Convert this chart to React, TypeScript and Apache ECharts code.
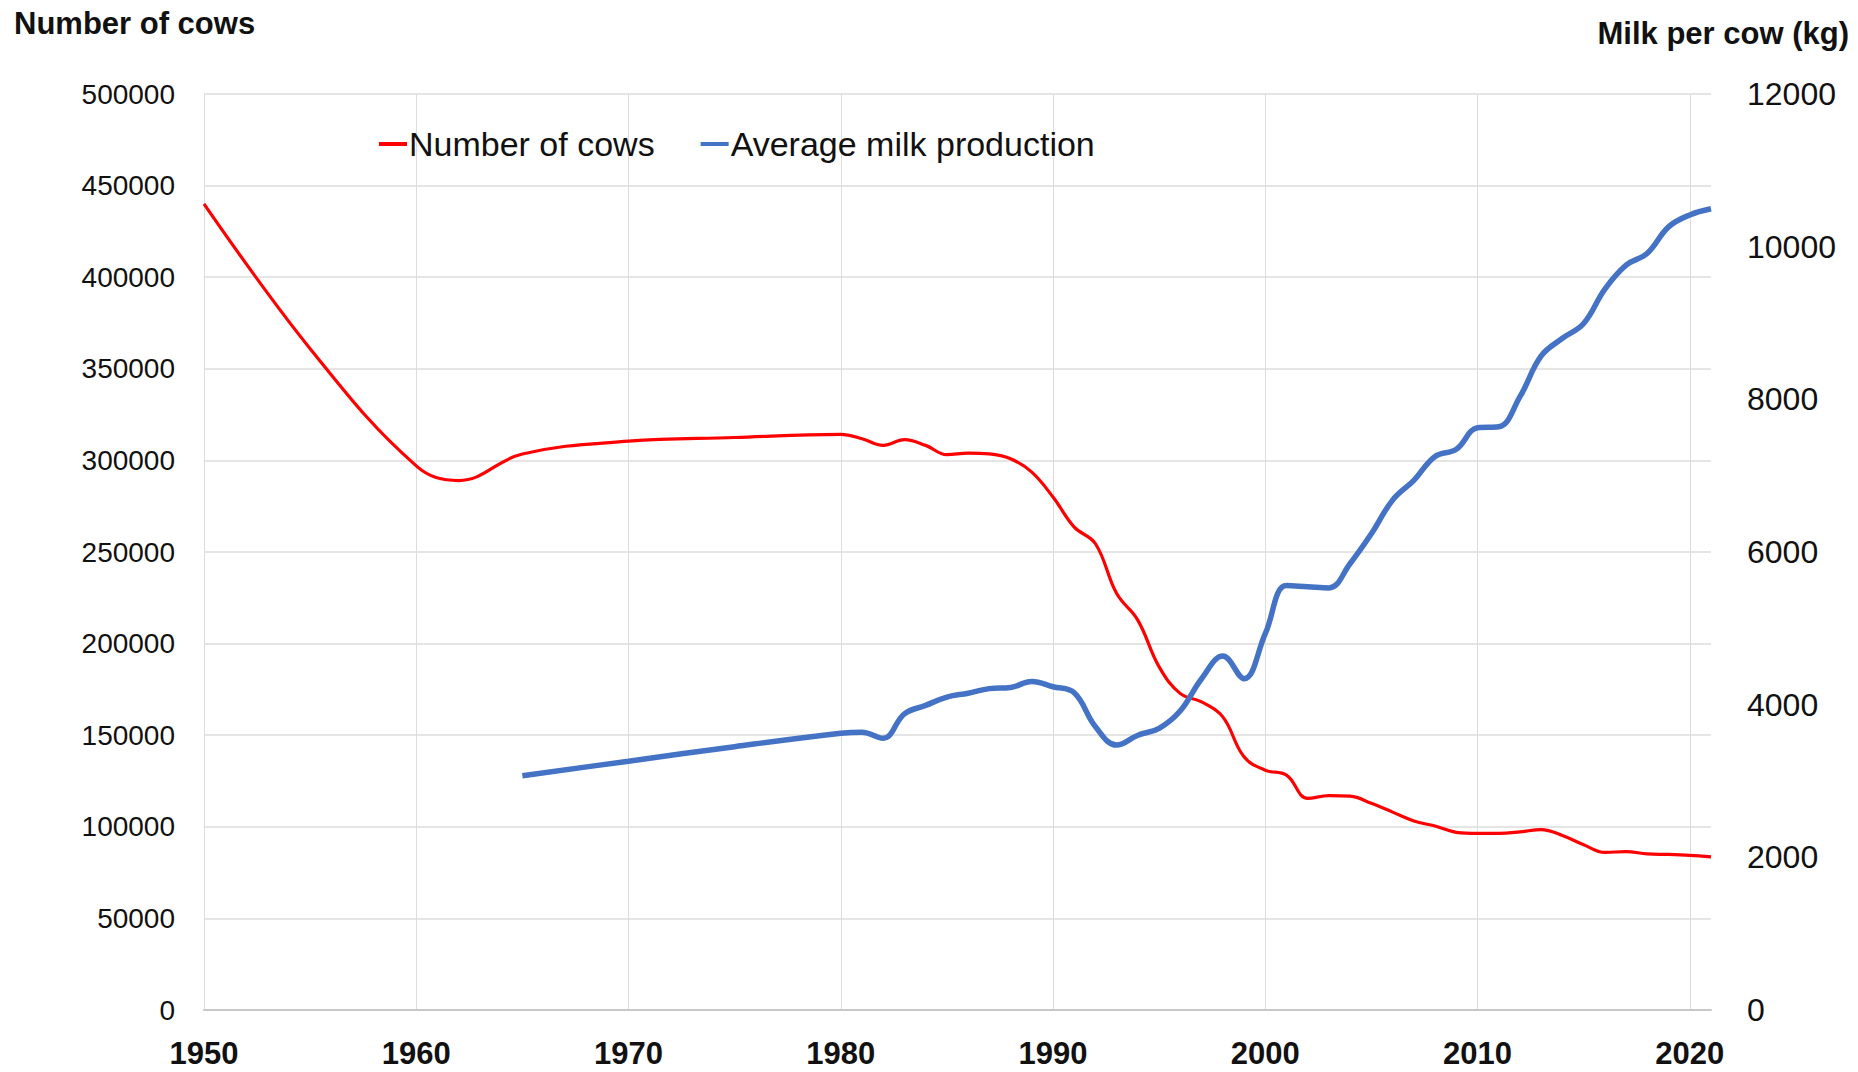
import React, { useEffect, useRef } from "react";
import * as echarts from "echarts";

const cowYears = [
  1950, 1955, 1960, 1962, 1965, 1970, 1975,
  1980, 1981, 1982, 1983, 1984, 1985, 1986, 1987, 1988, 1989,
  1990, 1991, 1992, 1993, 1994, 1995, 1996, 1997, 1998, 1999,
  2000, 2001, 2002, 2003, 2004, 2005, 2006, 2007, 2008, 2009,
  2010, 2011, 2012, 2013, 2014, 2015, 2016, 2017, 2018, 2019,
  2020, 2021,
];
const cowCounts = [
  440000, 361000, 297000, 289000, 303500, 310500, 312500,
  314200, 311800, 308200, 311300, 308200, 303100, 304000, 303600, 300900, 293600,
  280000, 263600, 254500, 227300, 212700, 187300, 172700, 168200, 160000, 138200,
  130900, 128200, 115500, 117000, 116700, 112800, 108000, 103200, 100400, 97000,
  96400, 96400, 97200, 98500, 95300, 90200, 86000, 86500, 85200, 84900,
  84400, 83600,
];

const milkYears = [
  1965, 1970, 1975,
  1980, 1981, 1982, 1983, 1984, 1985, 1986, 1987, 1988, 1989,
  1990, 1991, 1992, 1993, 1994, 1995, 1996, 1997, 1998, 1999,
  2000, 2001, 2002, 2003, 2004, 2005, 2006, 2007, 2008, 2009,
  2010, 2011, 2012, 2013, 2014, 2015, 2016, 2017, 2018, 2019,
  2020, 2021,
];
const milkPerCow = [
  3070, 3260, 3450,
  3625, 3640, 3560, 3880, 3990, 4100, 4150, 4210, 4225, 4305,
  4235, 4155, 3710, 3470, 3600, 3690, 3920, 4340, 4636, 4340,
  4930, 5560, 5545, 5530, 5850, 6240, 6680, 6939, 7252, 7346,
  7628, 7640, 8035, 8568, 8800, 8994, 9444, 9758, 9914, 10259,
  10416, 10497,
];

const seriesNames = ["Number of cows", "Average milk production"];
const leftAxisTitle = "Number of cows";
const rightAxisTitle = "Milk per cow (kg)";

const FONT = "'Liberation Sans', Arial, sans-serif";
const plain = (v: number) => String(v);

export default function App() {
  const ref = useRef<HTMLDivElement>(null);

  useEffect(() => {
    document.body.style.margin = "0";
    const chart = echarts.init(ref.current!, null, { renderer: "svg" });
    const cowData = cowYears.map((y, i) => [y, cowCounts[i]]);
    const milkData = milkYears.map((y, i) => [y, milkPerCow[i]]);

    chart.setOption({
      animation: false,
      backgroundColor: "#ffffff",
      textStyle: { fontFamily: FONT },
      grid: { left: 204, right: 147, top: 94, bottom: 62, containLabel: false },
      legend: {
        left: 374,
        top: 122,
        itemWidth: 28,
        itemHeight: 4,
        itemGap: 46,
        icon: "rect",
        textStyle: { fontSize: 34, color: "#111", fontFamily: FONT, padding: [0, 0, 0, -3] },
        data: seriesNames,
      },
      graphic: [
        {
          type: "text",
          x: 14,
          y: 23,
          style: {
            text: leftAxisTitle,
            fontSize: 31,
            fontWeight: "bold",
            fontFamily: FONT,
            fill: "#111",
            align: "left",
            verticalAlign: "middle",
          },
        },
        {
          type: "text",
          x: 1849,
          y: 33,
          style: {
            text: rightAxisTitle,
            fontSize: 31,
            fontWeight: "bold",
            fontFamily: FONT,
            fill: "#111",
            align: "right",
            verticalAlign: "middle",
          },
        },
      ],
      xAxis: {
        type: "value",
        min: 1950,
        max: 2021,
        interval: 10,
        axisLine: { show: true, lineStyle: { color: "#c8c8c8", width: 2 } },
        axisTick: { show: false },
        axisLabel: {
          fontSize: 31,
          fontWeight: "bold",
          color: "#111",
          fontFamily: FONT,
          margin: 28,
          showMaxLabel: false,
          formatter: plain,
        },
        splitLine: {
          show: true,
          showMaxLine: false,
          lineStyle: { color: "#dcdcdc", width: 1 },
        },
      },
      yAxis: [
        {
          type: "value",
          min: 0,
          max: 500000,
          interval: 50000,
          axisLine: { show: false },
          axisTick: { show: false },
          axisLabel: { fontSize: 28, color: "#111", fontFamily: FONT, margin: 29, formatter: plain },
          splitLine: { show: true, lineStyle: { color: "#dcdcdc", width: 1.5 } },
        },
        {
          type: "value",
          min: 0,
          max: 12000,
          interval: 2000,
          position: "right",
          axisLine: { show: false },
          axisTick: { show: false },
          axisLabel: { fontSize: 32, color: "#111", fontFamily: FONT, margin: 36, formatter: plain },
          splitLine: { show: false },
        },
      ],
      series: [
        {
          name: seriesNames[0],
          type: "line",
          yAxisIndex: 0,
          data: cowData,
          smooth: 0.4,
          symbol: "none",
          showSymbol: false,
          lineStyle: { color: "#ff0000", width: 3.2 },
          itemStyle: { color: "#ff0000" },
        },
        {
          name: seriesNames[1],
          type: "line",
          yAxisIndex: 1,
          data: milkData,
          smooth: 0.4,
          symbol: "none",
          showSymbol: false,
          lineStyle: { color: "#4472c4", width: 5.5 },
          itemStyle: { color: "#4472c4" },
        },
      ],
    });

    return () => chart.dispose();
  }, []);

  return <div ref={ref} style={{ width: 1858, height: 1072 }} />;
}
